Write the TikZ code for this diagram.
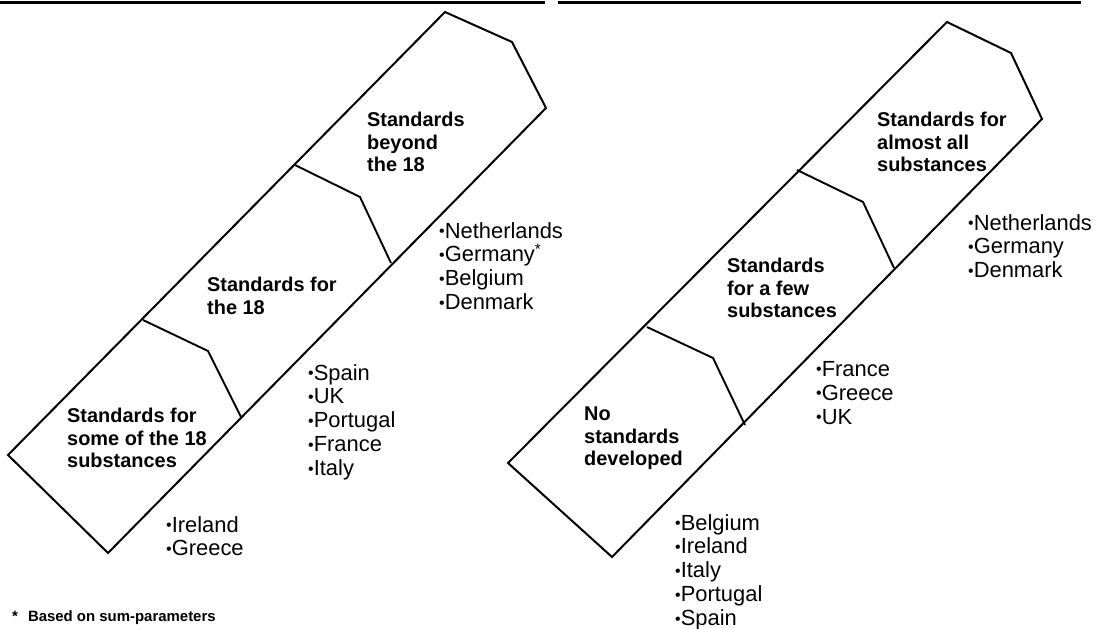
\documentclass[tikz,border=0pt]{standalone}
\usepackage{fontspec}
\setmainfont{Liberation Sans}
\usepackage{tikz}
\tikzset{
Regle/.style={
 draw=black,
 line width=2.6bp
 },
Bord/.style={
 draw=black,
 line width=2bp,
 line join=miter
 },
Coupe/.style={
 draw=black,
 line width=1.9bp
 },
Titre/.style={
 anchor=north west,
 inner sep=0pt,
 align=left,
 font=\fontsize{20}{22.5}\selectfont\bfseries
 },
Pays/.style={
 anchor=north west,
 inner sep=0pt,
 align=left,
 font=\fontsize{22}{24}\selectfont
 },
Note/.style={
 anchor=north west,
 inner sep=0pt,
 font=\fontsize{15}{15}\selectfont\bfseries
 }
}
\newcommand{\puce}{\raisebox{1.5bp}{\fontsize{16}{16}\selectfont\textbullet}}

\begin{document}
\begin{tikzpicture}[x=1bp,y=-1bp]
\useasboundingbox (0,0) rectangle (1095,629);
\draw[Regle] (0,2.5) -- (545,2.5);
\draw[Regle] (558,2.5) -- (1081,2.5);
\draw[Bord] (8,455) -- (445,12) -- (512,42) -- (546,108) -- (108,553) -- cycle;
\draw[Coupe] (295,165) -- (360,197) -- (391,263);
\draw[Coupe] (143,320) -- (208,351) -- (241,417);
\draw[Bord] (508,463) -- (947,22) -- (1011,53) -- (1042,119) -- (612,557) -- cycle;
\draw[Coupe] (797,170) -- (863,202) -- (894,268);
\draw[Coupe] (647,327) -- (713,358) -- (745,425);
\node[Titre] (beyond) at (367,112) {Standards\\beyond\\the 18};
\node[Titre] (eighteen) at (207,277) {Standards for\\the 18};
\node[Titre] (some) at (67,408) {Standards for\\some of the 18\\substances};
\node[Pays] (listNL) at (439,222) {\puce Netherlands\\\puce Germany\textsuperscript{*}\\\puce Belgium\\\puce Denmark};
\node[Pays] (listES) at (308,364) {\puce Spain\\\puce UK\\\puce Portugal\\\puce France\\\puce Italy};
\node[Pays] (listIE) at (166,516) {\puce Ireland\\\puce Greece};
\node[Titre] (almost) at (877,112) {Standards for\\almost all\\substances};
\node[Titre] (few) at (727,258) {Standards\\for a few\\substances};
\node[Titre] (none) at (584,407) {No\\standards\\developed};
\node[Pays] (listDK) at (968,214) {\puce Netherlands\\\puce Germany\\\puce Denmark};
\node[Pays] (listFR) at (816,361) {\puce France\\\puce Greece\\\puce UK};
\node[Pays] (listBE) at (675,514) {\puce Belgium\\\puce Ireland\\\puce Italy\\\puce Portugal\\\puce Spain};
\node[Note] (note) at (12,610) {*\hspace{10bp}Based on sum-parameters};
\end{tikzpicture}
\end{document}
